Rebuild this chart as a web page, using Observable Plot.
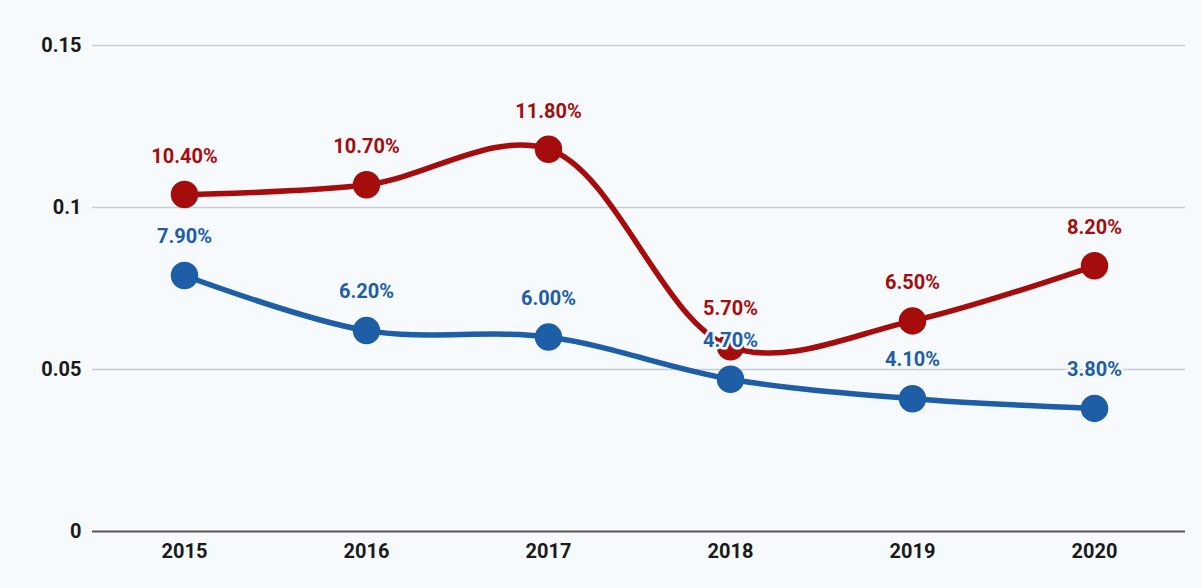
<!DOCTYPE html>
<html><head><meta charset="utf-8">
<script src="https://cdn.jsdelivr.net/npm/d3@7"></script>
<script src="https://cdn.jsdelivr.net/npm/@observablehq/plot@0.6"></script>
<style>
html,body{margin:0;padding:0;background:#f7fafd;}
#chart{width:1201px;height:588px;}
</style></head>
<body><div id="chart"></div>
<script>
const years = ["2015","2016","2017","2018","2019","2020"];
const redValues = [0.104,0.107,0.118,0.057,0.065,0.082];
const blueValues = [0.079,0.062,0.060,0.047,0.041,0.038];
const yTicks = [0,0.05,0.1,0.15];

const red = years.map((y,i)=>({year:y,value:redValues[i]}));
const blue = years.map((y,i)=>({year:y,value:blueValues[i]}));
const RED = "#a50d0d", BLUE = "#1d5ea6", BG = "#f7fafd";
const fmt = v => (v*100).toFixed(2) + "%";

const chart = Plot.plot({
  width:1201, height:588,
  marginLeft:92, marginRight:16, marginTop:45, marginBottom:57,
  style:{background:BG, fontFamily:"Roboto, 'Open Sans', sans-serif", fontSize:"20px", fontWeight:"bold", color:"#1a1a1a"},
  x:{type:"point", domain:years, padding:0.5, label:null},
  y:{domain:[0,0.15], ticks:yTicks, label:null, tickFormat:d=>String(d)},
  marks:[
    Plot.gridY(yTicks.filter(t=>t>0), {stroke:"#c8ccd2", strokeOpacity:1, strokeWidth:1.3}),
    Plot.ruleY([0], {stroke:"#555", strokeWidth:2}),
    Plot.axisY({ticks:yTicks, tickSize:0, tickPadding:11, tickFormat:d=>String(d), fontSize:20, fontWeight:"bold", fill:"#1a1a1a"}),
    Plot.axisX({tickSize:0, tickPadding:12, fontSize:20, fontWeight:"bold", fill:"#1a1a1a"}),
    Plot.line(blue, {x:"year", y:"value", stroke:BLUE, strokeWidth:5.5, curve:"catmull-rom"}),
    Plot.dot(blue, {x:"year", y:"value", r:13, fill:BLUE, stroke:BLUE}),
    Plot.line(red, {x:"year", y:"value", stroke:RED, strokeWidth:5.5, curve:"catmull-rom"}),
    Plot.dot(red, {x:"year", y:"value", r:13, fill:RED, stroke:RED}),
    Plot.text(red, {x:"year", y:"value", text:d=>fmt(d.value), dy:-38, fill:RED, fontSize:20, fontWeight:"bold", stroke:BG, strokeWidth:5}),
    Plot.text(blue, {x:"year", y:"value", text:d=>fmt(d.value), dy:-39, fill:BLUE, fontSize:20, fontWeight:"bold", stroke:BG, strokeWidth:5})
  ]
});
document.getElementById("chart").appendChild(chart);
</script>
</body></html>
